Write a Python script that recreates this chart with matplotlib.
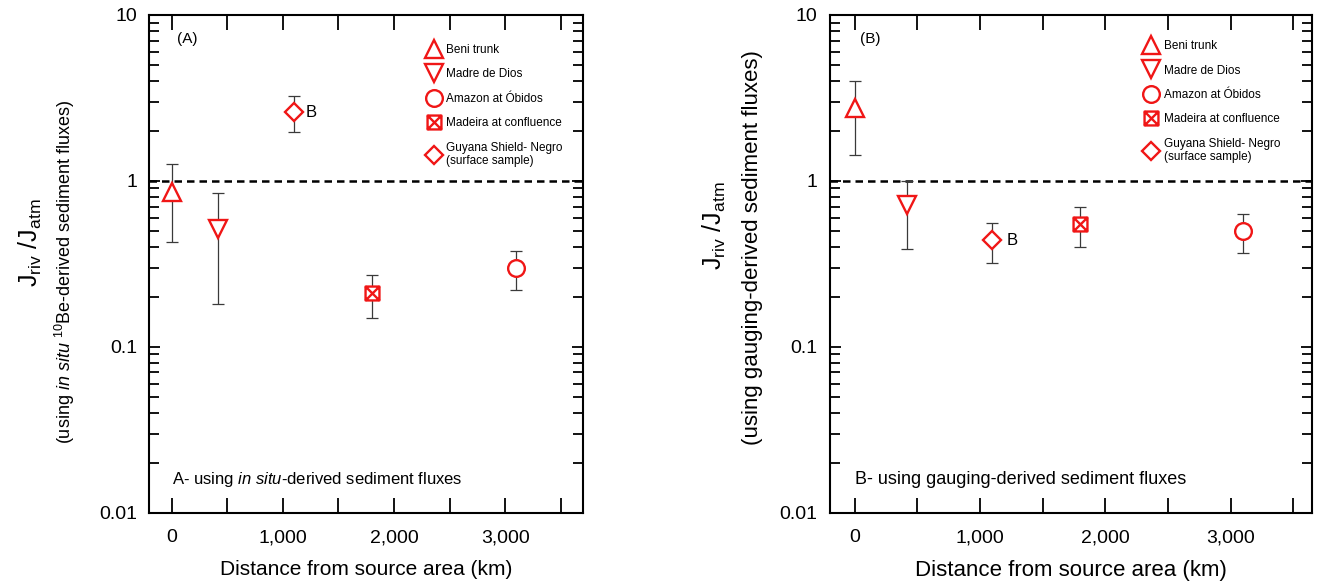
import matplotlib
matplotlib.use("Agg")
import matplotlib.pyplot as plt
import numpy as np
from matplotlib.lines import Line2D
from matplotlib.path import Path
from matplotlib.ticker import LogLocator, NullFormatter, FixedLocator

plt.rcParams['font.family'] = ['Liberation Sans', 'DejaVu Sans']
plt.rcParams['mathtext.fontset'] = 'custom'
plt.rcParams['mathtext.rm'] = 'Liberation Sans'
plt.rcParams['mathtext.it'] = 'Liberation Sans:italic'
plt.rcParams['mathtext.bf'] = 'Liberation Sans:bold'

# ---------------- data ----------------
sites = ["Beni trunk", "Madre de Dios", "Amazon at Óbidos",
         "Madeira at confluence", "Guyana Shield- Negro\n(surface sample)"]
distance_km = [0, 420, 3100, 1800, 1100]

# Panel A: in situ-derived sediment fluxes
ratio_A = [0.86, 0.51, 0.30, 0.21, 2.60]
low_A = [0.43, 0.18, 0.22, 0.15, 1.97]
high_A = [1.27, 0.84, 0.38, 0.27, 3.24]

# Panel B: gauging-derived sediment fluxes
ratio_B = [2.74, 0.72, 0.50, 0.55, 0.44]
low_B = [1.43, 0.39, 0.37, 0.40, 0.32]
high_B = [4.02, 1.00, 0.63, 0.70, 0.56]

xtick_values = [0, 500, 1000, 1500, 2000, 2500, 3000, 3500]
xtick_labels = ["0", "", "1,000", "", "2,000", "", "3,000", ""]
ytick_values = [0.01, 0.1, 1, 10]
ytick_labels = ["0.01", "0.1", "1", "10"]

# ---------------- styles ----------------
RED = '#f01616'
sq_x = Path([(-1, -1), (1, -1), (1, 1), (-1, 1), (-1, -1),
             (-1, -1), (1, 1), (-1, 1), (1, -1)],
            [Path.MOVETO, Path.LINETO, Path.LINETO, Path.LINETO, Path.CLOSEPOLY,
             Path.MOVETO, Path.LINETO, Path.MOVETO, Path.LINETO])
markers = ['^', 'v', 'o', sq_x, 'D']
msizes = [12.5, 12.5, 12, 10, 9]

fig = plt.figure(figsize=(13.3, 5.85), dpi=100)
axA = fig.add_axes([0.1124, 0.1236, 0.3259, 0.8508])
axB = fig.add_axes([0.6241, 0.1236, 0.3621, 0.8508])


def draw_panel(ax, ratio, low, high, xlim, tag, note, note_size, bx_off,
               leg_anchor, xlabel_size):
    ax.set_yscale('log')
    ax.set_ylim(0.01, 10)
    ax.set_xlim(*xlim)
    ax.axhline(1, color='black', lw=1.8, ls=(0, (3.0, 2.0)), zorder=1)
    for i in range(len(sites)):
        ax.errorbar([distance_km[i]], [ratio[i]],
                    yerr=[[ratio[i] - low[i]], [high[i] - ratio[i]]],
                    fmt='none', ecolor='#3a3a3a', elinewidth=0.9,
                    capsize=4.3, capthick=0.9, zorder=2)
        ax.plot([distance_km[i]], [ratio[i]], marker=markers[i], ms=msizes[i],
                mfc='white', mec=RED, mew=1.7, ls='none', zorder=3)
    # "B" label near Guyana/Negro sample
    ax.annotate("B", (distance_km[4], ratio[4]), xytext=(bx_off, 0),
                textcoords='offset points', ha='left', va='center', fontsize=12)
    ax.text(0.063, 0.952, tag, transform=ax.transAxes, fontsize=11,
            ha='left', va='center')
    ax.text(0.052, 0.066, note, transform=ax.transAxes, fontsize=note_size,
            ha='left', va='center')

    ax.xaxis.set_major_locator(FixedLocator(xtick_values))
    ax.set_xticklabels(xtick_labels)
    ax.set_yticks(ytick_values)
    ax.set_yticklabels(ytick_labels)
    ax.yaxis.set_minor_locator(LogLocator(base=10, subs=np.arange(2, 10)))
    ax.yaxis.set_minor_formatter(NullFormatter())
    ax.tick_params(axis='x', which='major', direction='in', top=True, bottom=True,
                   length=11, width=1.3, labelsize=14, pad=12)
    ax.tick_params(axis='y', which='major', direction='in', left=True, right=True,
                   length=8, width=1.3, labelsize=14, pad=9)
    ax.tick_params(axis='y', which='minor', direction='in', left=True, right=True,
                   length=7, width=1.3)
    for s in ax.spines.values():
        s.set_linewidth(1.5)
    ax.set_xlabel("Distance from source area (km)", fontsize=xlabel_size,
                  labelpad=9.5)

    handles = [Line2D([], [], marker=markers[i], ms=msizes[i], mfc='white',
                      mec=RED, mew=1.7, ls='none') for i in range(len(sites))]
    ax.legend(handles, sites,
              loc='upper left', bbox_to_anchor=leg_anchor, frameon=False,
              fontsize=8.5, handlelength=1.4, handletextpad=0.35,
              labelspacing=1.05, borderaxespad=0)


draw_panel(axA, ratio_A, low_A, high_A, (-200, 3700), "(A)",
           "A- using $\\it{in\\ situ}$-derived sediment fluxes", 12, 8.4,
           (0.626, 0.951), 15)
draw_panel(axB, ratio_B, low_B, high_B, (-195, 3645), "(B)",
           "B- using gauging-derived sediment fluxes", 13, 10,
           (0.640, 0.959), 16)

# y labels (two lines each)
fig.text(0.0226, 0.586, "J$_{\\mathrm{riv}}$ /J$_{\\mathrm{atm}}$", rotation=90,
         ha='center', va='center', fontsize=18)
fig.text(0.0489, 0.535,
         "(using $\\it{in\\ situ}$ $^{\\mathrm{10}}$Be-derived sediment fluxes)",
         rotation=90, ha='center', va='center', fontsize=13)
fig.text(0.537, 0.615, "J$_{\\mathrm{riv}}$ /J$_{\\mathrm{atm}}$", rotation=90,
         ha='center', va='center', fontsize=18)
fig.text(0.566, 0.576, "(using gauging-derived sediment fluxes)",
         rotation=90, ha='center', va='center', fontsize=16)

fig.savefig("out.png", dpi=100)
